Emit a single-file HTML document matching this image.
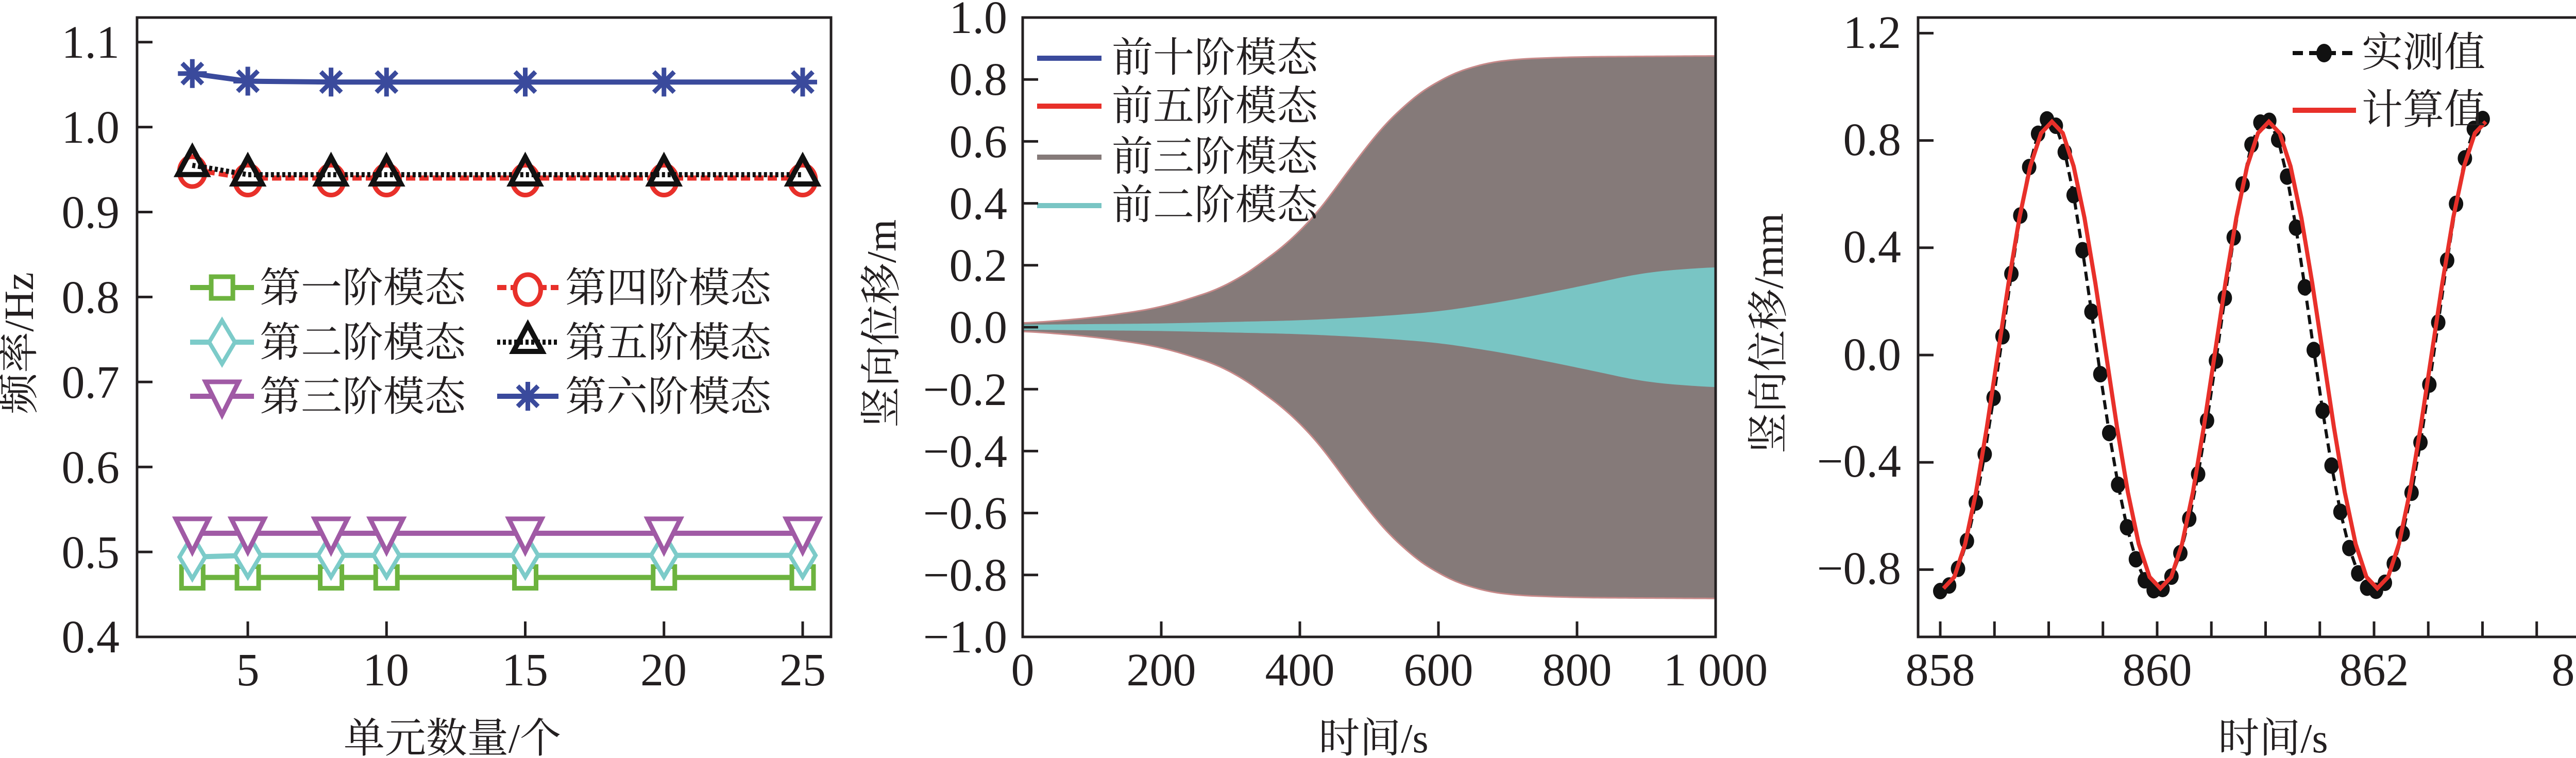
<!DOCTYPE html>
<html><head><meta charset="utf-8">
<style>
html,body{margin:0;padding:0;background:#fff;overflow:hidden;width:5088px;height:1471px;}
svg{display:block;position:absolute;left:0;top:0;}
.n{font-family:"Liberation Serif","Noto Serif CJK SC",serif;font-size:90px;fill:#231f20;}
.c{font-family:"Liberation Serif","Noto Serif CJK SC",serif;font-size:80px;fill:#231f20;}
</style></head><body>
<svg id="s" xmlns="http://www.w3.org/2000/svg" width="5088" height="1471" viewBox="0 0 5088 1471">
<rect width="5088" height="1471" fill="#fff"/>
<g id="p1"></g>
<g id="p2"></g>
<g id="p3"></g>

<g class="n" text-anchor="end">
<text x="232" y="112">1.1</text>
<text x="232" y="277">1.0</text>
<text x="232" y="442">0.9</text>
<text x="232" y="607">0.8</text>
<text x="232" y="772">0.7</text>
<text x="232" y="937">0.6</text>
<text x="232" y="1102">0.5</text>
<text x="232" y="1266">0.4</text>
</g>
<g class="n" text-anchor="middle">
<text x="481" y="1330">5</text>
<text x="749" y="1330">10</text>
<text x="1019" y="1330">15</text>
<text x="1288" y="1330">20</text>
<text x="1558" y="1330">25</text>
</g>
<text class="c" x="878" y="1460" text-anchor="middle">单元数量/个</text>
<text class="c" transform="translate(64,666) rotate(-90)" text-anchor="middle">频率/Hz</text>
<g class="c">
<text x="504" y="586">第一阶模态</text>
<text x="504" y="692">第二阶模态</text>
<text x="504" y="797">第三阶模态</text>
<text x="1097" y="586">第四阶模态</text>
<text x="1097" y="692">第五阶模态</text>
<text x="1097" y="797">第六阶模态</text>
</g>

<g class="n" text-anchor="end">
<text x="1955" y="64">1.0</text>
<text x="1955" y="184">0.8</text>
<text x="1955" y="305">0.6</text>
<text x="1955" y="425">0.4</text>
<text x="1955" y="545">0.2</text>
<text x="1955" y="665">0.0</text>
<text x="1955" y="786">−0.2</text>
<text x="1955" y="906">−0.4</text>
<text x="1955" y="1026">−0.6</text>
<text x="1955" y="1146">−0.8</text>
<text x="1955" y="1266">−1.0</text>
</g>
<g class="n" text-anchor="middle">
<text x="1985" y="1330">0</text>
<text x="2254" y="1330">200</text>
<text x="2523" y="1330">400</text>
<text x="2792" y="1330">600</text>
<text x="3061" y="1330">800</text>
<text x="3330" y="1330">1 000</text>
</g>
<text class="c" x="2666" y="1460" text-anchor="middle">时间/s</text>
<text class="c" transform="translate(1738,628) rotate(-90)" text-anchor="middle">竖向位移/m</text>
<g class="c">
<text x="2158" y="139">前十阶模态</text>
<text x="2158" y="233">前五阶模态</text>
<text x="2158" y="331">前三阶模态</text>
<text x="2158" y="425">前二阶模态</text>
</g>

<g class="n" text-anchor="end">
<text x="3690" y="93">1.2</text>
<text x="3690" y="301">0.8</text>
<text x="3690" y="509">0.4</text>
<text x="3690" y="718">0.0</text>
<text x="3690" y="925">−0.4</text>
<text x="3690" y="1133">−0.8</text>
</g>
<g class="n" text-anchor="middle">
<text x="3766" y="1330">858</text>
<text x="4187" y="1330">860</text>
<text x="4608" y="1330">862</text>
<text x="5020" y="1330">864</text>
</g>
<text class="c" x="4412" y="1460" text-anchor="middle">时间/s</text>
<text class="c" transform="translate(3460,647) rotate(-90)" text-anchor="middle">竖向位移/mm</text>
<g class="c">
<text x="4584" y="129">实测值</text>
<text x="4584" y="240">计算值</text>
</g>
</svg>
<script>
var NS="http://www.w3.org/2000/svg";
function el(p,t,a){var e=document.createElementNS(NS,t);for(var k in a)e.setAttribute(k,a[k]);p.appendChild(e);return e;}
var g1=document.getElementById('p1');
var L1=266,R1=1613,T=34,B=1236;
function X1(v){return 481+(v-5)*53.85;}
function Y1(v){return 1236-(v-0.4)*1649;}
var xs=[3,5,8,10,15,20,25];
function series(vals,color,dash,marker){
  var pts=xs.map(function(x,i){return X1(x)+","+Y1(vals[i]);}).join(" ");
  var a={points:pts,fill:"none",stroke:color,"stroke-width":10};
  if(dash)a["stroke-dasharray"]=dash;
  el(g1,"polyline",a);
  xs.forEach(function(x,i){drawMarker(g1,marker,X1(x),Y1(vals[i]),color);});
}
function drawMarker(g,m,cx,cy,color){
  var s=28;
  if(m=="sq")el(g,"rect",{x:cx-21,y:cy-21,width:42,height:42,fill:"#fff",stroke:color,"stroke-width":9});
  else if(m=="di")el(g,"polygon",{points:(cx)+","+(cy-42)+" "+(cx+25)+","+cy+" "+cx+","+(cy+42)+" "+(cx-25)+","+cy,fill:"#fff",stroke:color,"stroke-width":8});
  else if(m=="tv")el(g,"polygon",{points:(cx-32)+","+(cy-28)+" "+(cx+32)+","+(cy-28)+" "+cx+","+(cy+36),fill:"#fff",stroke:color,"stroke-width":9});
  else if(m=="ci")el(g,"ellipse",{cx:cx,cy:cy+4,rx:25,ry:29,fill:"#fff",stroke:color,"stroke-width":9});
  else if(m=="tu")el(g,"polygon",{points:(cx-28)+","+(cy+18)+" "+(cx+28)+","+(cy+18)+" "+cx+","+(cy-34),fill:"none",stroke:color,"stroke-width":10});
  else if(m=="st"){for(var k=0;k<4;k++){var an=k*Math.PI/4;el(g,"line",{x1:cx-s*Math.cos(an),y1:cy-s*Math.sin(an),x2:cx+s*Math.cos(an),y2:cy+s*Math.sin(an),stroke:color,"stroke-width":9});}}
}
series([0.47,0.47,0.47,0.47,0.47,0.47,0.47],"#6db33f",null,"sq");
series([0.494,0.496,0.496,0.496,0.496,0.496,0.496],"#7ccbc9",null,"di");
series([0.522,0.522,0.522,0.522,0.522,0.522,0.522],"#a05aa5",null,"tv");
series([1.063,1.054,1.053,1.053,1.053,1.053,1.053],"#3a4a9c",null,"st");
series([0.95,0.94,0.94,0.94,0.94,0.94,0.94],"#e8302a","18 8","ci");
series([0.955,0.944,0.944,0.944,0.944,0.944,0.944],"#111","6 5","tu");
function leg(x1,x2,y,color,dash,m){var a={x1:x1,y1:y,x2:x2,y2:y,stroke:color,"stroke-width":10};if(dash)a["stroke-dasharray"]=dash;el(g1,"line",a);drawMarker(g1,m,(x1+x2)/2,y,color);}
leg(369,493,558,"#6db33f",null,"sq");
leg(369,493,664,"#7ccbc9",null,"di");
leg(369,493,769,"#a05aa5",null,"tv");
leg(965,1084,558,"#e8302a","18 8","ci");
leg(965,1084,664,"#111","6 5","tu");
leg(965,1084,769,"#3a4a9c",null,"st");
[1.1,1.0,0.9,0.8,0.7,0.6,0.5].forEach(function(v){el(g1,"line",{x1:L1,x2:L1+30,y1:Y1(v),y2:Y1(v),stroke:"#231f20","stroke-width":5});});
[5,10,15,20,25].forEach(function(v){el(g1,"line",{x1:X1(v),x2:X1(v),y1:B,y2:B-30,stroke:"#231f20","stroke-width":5});});
el(g1,"rect",{x:L1,y:T,width:R1-L1,height:B-T,fill:"none",stroke:"#231f20","stroke-width":5});

var g2=document.getElementById('p2');
var L2=1985,R2=3330;
function X2(t){return L2+t*(R2-L2)/1000;}
function Y2(v){return 635-v*601;}
function lin(tbl,t){if(t<=tbl[0][0])return tbl[0][1];for(var i=0;i<tbl.length-1;i++){if(t<=tbl[i+1][0]){var a=tbl[i],b=tbl[i+1];return a[1]+(b[1]-a[1])*(t-a[0])/(b[0]-a[0]);}}return tbl[tbl.length-1][1];}
function smooth(tbl,t){var s=0,n=0;for(var d=-40;d<=40;d+=2){s+=lin(tbl,Math.max(0,Math.min(1000,t+d)));n++;}return s/n;}
var grayT=[[0,0.012],[100,0.03],[200,0.063],[300,0.135],[400,0.3],[450,0.44],[500,0.6],[550,0.72],[600,0.8],[650,0.845],[700,0.865],[800,0.873],[1000,0.876]];
var cyanT=[[0,0.008],[200,0.012],[400,0.022],[500,0.033],[600,0.05],[700,0.085],[800,0.13],[900,0.178],[1000,0.195]];
function env(tbl,fill,stroke){var up=[],dn=[];for(var t=0;t<=1000;t+=5){var a=smooth(tbl,t);up.push(X2(t)+","+Y2(a));dn.unshift(X2(t)+","+Y2(-a));}
 el(g2,"polygon",{points:up.concat(dn).join(" "),fill:fill,stroke:stroke,"stroke-width":3});}
env(grayT,"#857a79","#c88a8a");
env(cyanT,"#79c5c4","none");
[[113,"#3a4a9c"],[206,"#e8302a"],[305,"#857a79"],[399,"#79c5c4"]].forEach(function(r){el(g2,"line",{x1:2013,x2:2138,y1:r[0],y2:r[0],stroke:r[1],"stroke-width":10});});
for(var v=-0.8;v<=0.81;v+=0.2){el(g2,"line",{x1:L2,x2:L2+30,y1:Y2(v),y2:Y2(v),stroke:"#231f20","stroke-width":5});}
[200,400,600,800].forEach(function(t){el(g2,"line",{x1:X2(t),x2:X2(t),y1:B,y2:B-30,stroke:"#231f20","stroke-width":5});});
el(g2,"rect",{x:L2,y:T,width:R2-L2,height:B-T,fill:"none",stroke:"#231f20","stroke-width":5});

var g3=document.getElementById('p3');
var L3=3723,R3=5066;
function X3(t){return 3766+(t-858)*210.5;}
function Y3(v){return 689-v*520.5;}
var mpts=[];
for(var t=858;t<=863.06;t+=0.082){var v=-0.88*Math.cos(Math.PI*(t-858-0.05*Math.sin(Math.PI*(t-858))));mpts.push([X3(t),Y3(v)]);}
el(g3,"polyline",{points:mpts.map(function(p){return p.join(",");}).join(" "),fill:"none",stroke:"#111","stroke-width":6,"stroke-dasharray":"18 10"});
mpts.forEach(function(p){el(g3,"ellipse",{cx:p[0],cy:p[1],rx:14,ry:16,fill:"#111"});});
var cp=[];
for(var t=858.03;t<=863.08;t+=0.1){var v=-0.87*Math.cos(Math.PI*(t-858.03));cp.push(X3(t)+","+Y3(v));}
el(g3,"polyline",{points:cp.join(" "),fill:"none",stroke:"#e8302a","stroke-width":8});
el(g3,"line",{x1:4450,x2:4573,y1:103,y2:103,stroke:"#111","stroke-width":8,"stroke-dasharray":"20 12"});
el(g3,"ellipse",{cx:4511,cy:103,rx:15,ry:18,fill:"#111"});
el(g3,"line",{x1:4450,x2:4573,y1:214,y2:214,stroke:"#e8302a","stroke-width":10});
[1.2,0.8,0.4,0,-0.4,-0.8].forEach(function(v){el(g3,"line",{x1:L3,x2:L3+30,y1:Y3(v),y2:Y3(v),stroke:"#231f20","stroke-width":5});});
for(var t=858;t<=864.01;t+=0.5){el(g3,"line",{x1:X3(t),x2:X3(t),y1:B,y2:B-30,stroke:"#231f20","stroke-width":5});}
el(g3,"rect",{x:L3,y:T,width:R3-L3,height:B-T,fill:"none",stroke:"#231f20","stroke-width":5});
</script>
</body></html>
